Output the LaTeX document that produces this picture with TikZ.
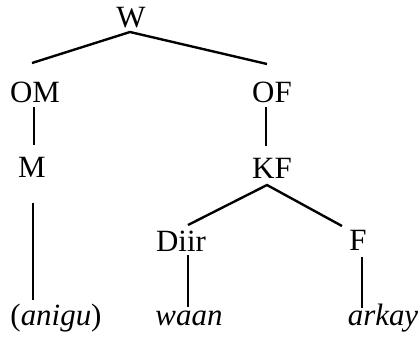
\documentclass[tikz,border=0pt]{standalone}
\usepackage{fontspec}
\setmainfont{Liberation Serif}
\usetikzlibrary{calc}

\begin{document}
\begin{tikzpicture}[x=0.025cm, y=-0.025cm,
      cat/.style={inner sep=0pt, anchor=base, font=\fontsize{22}{26}\selectfont},
      word/.style={cat, font=\fontsize{22}{26}\selectfont\itshape},
      br/.style={line width=1.7pt}]
    \useasboundingbox (0,0) rectangle (420,337);
    % tree labels
    \node[cat] (w)    at (131,27)  {W};
    \node[cat] (om)   at (35,102)  {OM};
    \node[cat] (of)   at (272,102) {OF};
    \node[cat] (m)    at (32,177)  {M};
    \node[cat] (kf)   at (272,178) {KF};
    \node[cat] (diir) at (181,251) {Diir};
    \node[cat] (f)    at (358,250) {F};
    \node[cat] (anigu)  at (56,325)  {(\textit{anigu})};
    \node[word] (waan)  at (189,325) {waan};
    \node[word] (arkay) at (383,325) {arkay};
    % branches
    \draw[br] ($(om.base)+(-3,-39)$) -- ($(w.base)+(-1,5)$) -- ($(of.base)+(-5,-38)$);
    \draw[br] ($(om.base)+(-1,5)$) -- ($(m.base)+(2,-32)$);
    \draw[br] ($(of.base)+(-6,5)$) -- ($(kf.base)+(-6,-32)$);
    \draw[br] ($(m.base)+(1,26)$) -- ($(anigu.base)+(-23,-25)$);
    \draw[br] ($(diir.base)+(7,-26)$) -- ($(kf.base)+(-5,7)$) -- ($(f.base)+(-16,-24)$);
    \draw[br] ($(diir.base)+(7,4)$) -- ($(waan.base)+(-1,-18)$);
    \draw[br] ($(f.base)+(4,7)$) -- ($(arkay.base)+(-21,-17)$);
\end{tikzpicture}
\end{document}
